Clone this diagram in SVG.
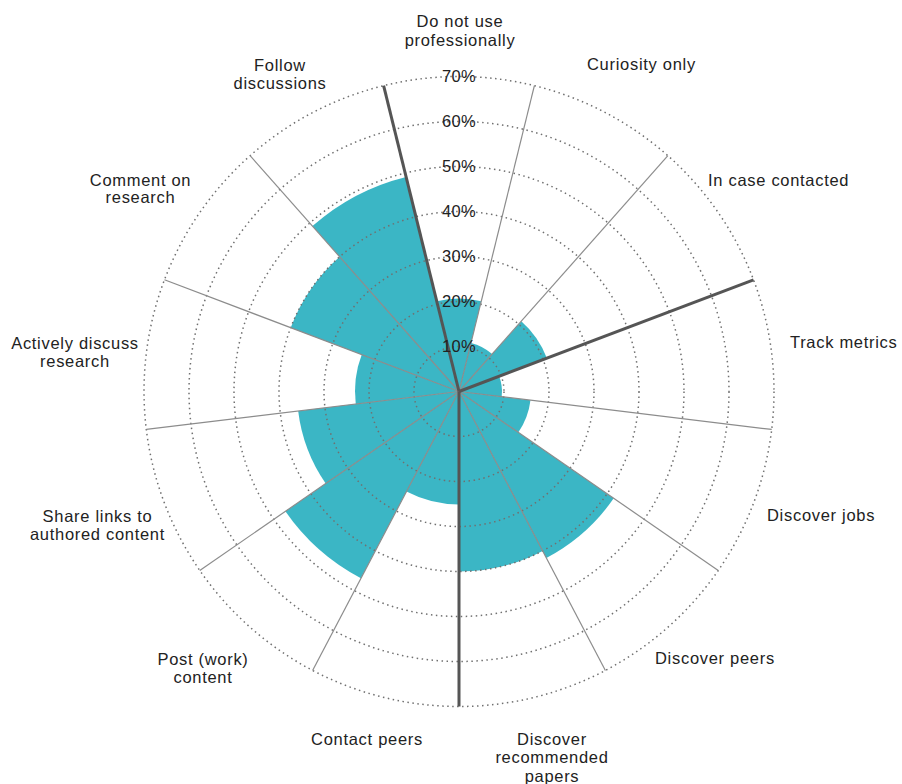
<svg xmlns="http://www.w3.org/2000/svg" width="902" height="784" viewBox="0 0 902 784">
<style>
.w{fill:#3bb6c5;stroke:none}
.lbl{font-family:"Liberation Sans",Arial,sans-serif;font-size:16.5px;fill:#222;letter-spacing:0.7px}
.m{text-anchor:middle}
.pct{font-family:"Liberation Sans",Arial,sans-serif;font-size:16.5px;fill:#222;text-anchor:middle;letter-spacing:0.4px}
.grid{fill:none;stroke:#707070;stroke-width:1.5;stroke-dasharray:1.5 3.5}
.thin{stroke:#8c8c8c;stroke-width:1.2}
.dark{stroke:#555;stroke-width:3}
</style>
<rect width="902" height="784" fill="#fff"/>
<g id="n0"><path class="w" d="M459,391.5 L436.74,301.2 A93,93 0 0 1 481.26,301.2 Z"/>
<text class="lbl m"><tspan x="460" y="27">Do not use</tspan><tspan x="460" y="45.5">professionally</tspan></text></g>
<g id="n1"><path class="w" d="M459,391.5 L470.97,342.95 A50,50 0 0 1 492.16,354.07 Z"/>
<text class="lbl" x="587" y="70">Curiosity only</text></g>
<g id="n2"><path class="w" d="M459,391.5 L521.33,321.14 A94,94 0 0 1 546.89,358.17 Z"/>
<text class="lbl" x="708" y="186">In case contacted</text></g>
<g id="n3"><path class="w" d="M459,391.5 L499.21,376.25 A43,43 0 0 1 501.69,396.68 Z"/>
<text class="lbl" x="790" y="348">Track metrics</text></g>
<g id="n4"><path class="w" d="M459,391.5 L530.48,400.18 A72,72 0 0 1 518.26,432.4 Z"/>
<text class="lbl" x="767" y="521">Discover jobs</text></g>
<g id="n5"><path class="w" d="M459,391.5 L613.72,498.3 A188,188 0 0 1 546.37,557.97 Z"/>
<text class="lbl" x="655" y="664">Discover peers</text></g>
<g id="n6"><path class="w" d="M459,391.5 L542.65,550.88 A180,180 0 0 1 459,571.5 Z"/>
<text class="lbl m"><tspan x="552" y="745">Discover</tspan><tspan x="552" y="763.3">recommended</tspan><tspan x="552" y="781.6">papers</tspan></text></g>
<g id="n7"><path class="w" d="M459,391.5 L459,504.5 A113,113 0 0 1 406.49,491.56 Z"/>
<text class="lbl m" x="367" y="744.5">Contact peers</text></g>
<g id="n8"><path class="w" d="M459,391.5 L360.94,578.33 A211,211 0 0 1 285.35,511.36 Z"/>
<text class="lbl m"><tspan x="203" y="665">Post (work)</tspan><tspan x="203" y="683">content</tspan></text></g>
<g id="n9"><path class="w" d="M459,391.5 L325.68,483.53 A162,162 0 0 1 298.18,411.03 Z"/>
<text class="lbl m"><tspan x="97.5" y="522">Share links to</tspan><tspan x="97.5" y="540.3">authored content</tspan></text></g>
<g id="n10"><path class="w" d="M459,391.5 L355.76,404.04 A104,104 0 0 1 361.76,354.62 Z"/>
<text class="lbl m"><tspan x="75" y="348.5">Actively discuss</tspan><tspan x="75" y="366.8">research</tspan></text></g>
<g id="n11"><path class="w" d="M459,391.5 L290.7,327.67 A180,180 0 0 1 339.64,256.77 Z"/>
<text class="lbl m"><tspan x="140.5" y="186">Comment on</tspan><tspan x="140.5" y="203.3">research</tspan></text></g>
<g id="n12"><path class="w" d="M459,391.5 L312.45,226.08 A221,221 0 0 1 406.11,176.92 Z"/>
<text class="lbl m"><tspan x="280" y="71">Follow</tspan><tspan x="280" y="89.3">discussions</tspan></text></g>
<g id="grid">
<circle class="grid" cx="459" cy="391.5" r="45"/>
<circle class="grid" cx="459" cy="391.5" r="90"/>
<circle class="grid" cx="459" cy="391.5" r="135"/>
<circle class="grid" cx="459" cy="391.5" r="180"/>
<circle class="grid" cx="459" cy="391.5" r="225"/>
<circle class="grid" cx="459" cy="391.5" r="270"/>
<circle class="grid" cx="459" cy="391.5" r="315"/>
</g>
<g id="connectors">
<line class="thin" x1="459" y1="391.5" x2="534.39" y2="85.65"/>
<line class="thin" x1="459" y1="391.5" x2="667.88" y2="155.72"/>
<line class="thin" x1="459" y1="391.5" x2="771.7" y2="429.47"/>
<line class="thin" x1="459" y1="391.5" x2="718.24" y2="570.44"/>
<line class="thin" x1="459" y1="391.5" x2="605.39" y2="670.42"/>
<line class="thin" x1="459" y1="391.5" x2="312.61" y2="670.42"/>
<line class="thin" x1="459" y1="391.5" x2="199.76" y2="570.44"/>
<line class="thin" x1="459" y1="391.5" x2="146.3" y2="429.47"/>
<line class="thin" x1="459" y1="391.5" x2="164.47" y2="279.8"/>
<line class="thin" x1="459" y1="391.5" x2="250.12" y2="155.72"/>
<line class="dark" x1="459" y1="391.5" x2="383.61" y2="85.65"/>
<line class="dark" x1="459" y1="391.5" x2="753.53" y2="279.8"/>
<line class="dark" x1="459" y1="391.5" x2="459" y2="706.5"/>
</g>
<g id="axis">
<text class="pct" x="459" y="352">10%</text>
<text class="pct" x="459" y="307">20%</text>
<text class="pct" x="459" y="262">30%</text>
<text class="pct" x="459" y="217">40%</text>
<text class="pct" x="459" y="172">50%</text>
<text class="pct" x="459" y="127">60%</text>
<text class="pct" x="459" y="82">70%</text>
</g>
</svg>
